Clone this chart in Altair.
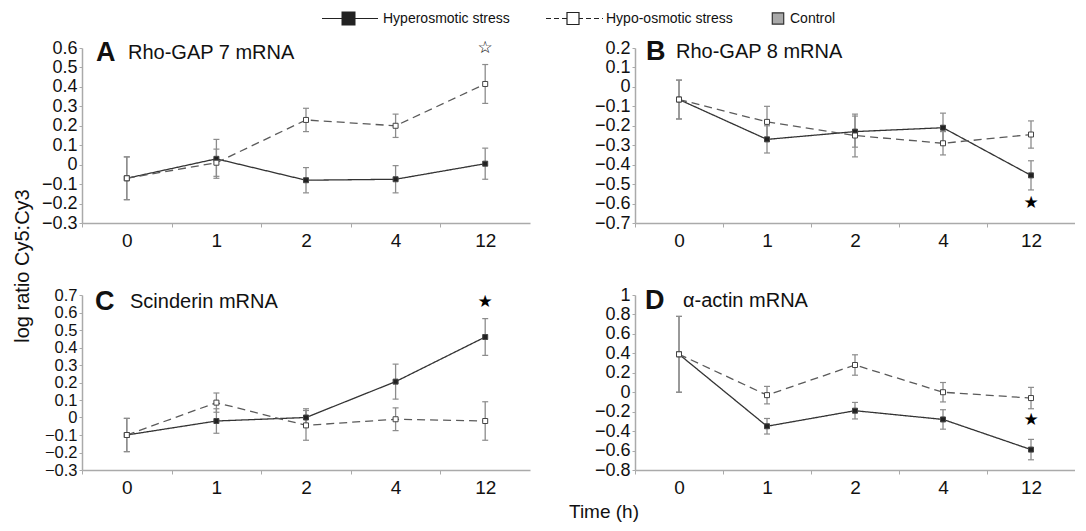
import altair as alt
import pandas as pd

times = ["0", "1", "2", "4", "12"]
series_names = ["Hyperosmotic stress", "Hypo-osmotic stress", "Control"]

# Panel A: Rho-GAP 7 mRNA
a_hyper = [-0.07, 0.03, -0.08, -0.075, 0.005]
a_hyper_err = [0.11, 0.10, 0.065, 0.07, 0.08]
a_hypo = [-0.07, 0.01, 0.23, 0.20, 0.415]
a_hypo_err = [0.11, 0.07, 0.06, 0.06, 0.10]

# Panel B: Rho-GAP 8 mRNA
b_hyper = [-0.065, -0.27, -0.23, -0.21, -0.455]
b_hyper_err = [0.10, 0.07, 0.08, 0.075, 0.075]
b_hypo = [-0.065, -0.18, -0.25, -0.29, -0.245]
b_hypo_err = [0.10, 0.08, 0.11, 0.06, 0.07]

# Panel C: Scinderin mRNA
c_hyper = [-0.10, -0.02, 0.0, 0.205, 0.46]
c_hyper_err = [0.095, 0.07, 0.05, 0.10, 0.105]
c_hypo = [-0.10, 0.085, -0.045, -0.01, -0.02]
c_hypo_err = [0.095, 0.055, 0.085, 0.065, 0.11]

# Panel D: alpha-actin mRNA
d_hyper = [0.39, -0.35, -0.19, -0.28, -0.59]
d_hyper_err = [0.39, 0.08, 0.085, 0.10, 0.105]
d_hypo = [0.39, -0.03, 0.28, 0.0, -0.06]
d_hypo_err = [0.39, 0.09, 0.105, 0.10, 0.11]

panel_letters = ["A", "B", "C", "D"]
panel_names = ["Rho-GAP 7 mRNA", "Rho-GAP 8 mRNA", "Scinderin mRNA", "\u03b1-actin mRNA"]

y_domains = [[-0.3, 0.6], [-0.7, 0.2], [-0.3, 0.7], [-0.8, 1.0]]
y_ticks = [
    [-0.3, -0.2, -0.1, 0, 0.1, 0.2, 0.3, 0.4, 0.5, 0.6],
    [-0.7, -0.6, -0.5, -0.4, -0.3, -0.2, -0.1, 0, 0.1, 0.2],
    [-0.3, -0.2, -0.1, 0, 0.1, 0.2, 0.3, 0.4, 0.5, 0.6, 0.7],
    [-0.8, -0.6, -0.4, -0.2, 0, 0.2, 0.4, 0.6, 0.8, 1.0],
]

# significance stars (time, value, glyph)
star_times = ["12", "12", "12", "12"]
star_values = [0.60, -0.595, 0.66, -0.29]
star_glyphs = ["\u2606", "\u2605", "\u2605", "\u2605"]

x_title = "Time (h)"
y_title = "log ratio Cy5:Cy3"

FONT = "Liberation Sans"
OX = 8  # page x of the content origin


def make_df(hyper, hyper_err, hypo, hypo_err):
    rows = []
    for name, vals, errs in [(series_names[0], hyper, hyper_err), (series_names[1], hypo, hypo_err)]:
        for t, v, e in zip(times, vals, errs):
            rows.append({"time": t, "series": name, "value": v, "lo": v - e, "hi": v + e})
    return pd.DataFrame(rows)


def panel(i, df, width, height, letter_dx, name_dx, text_dy, ylabel_size=18):
    step = width / len(times)
    xscale = alt.Scale(type="point", padding=0.5)
    x = alt.X("time:N", sort=times, scale=xscale,
              axis=alt.Axis(title=None, labelAngle=0, tickSize=4, tickOffset=-step / 2,
                            labelOffset=step / 2, grid=False,
                            tickColor="#aaaaaa", domainColor="#aaaaaa", domainWidth=1.5,
                            labelFont=FONT, labelFontSize=19, labelColor="#111111",
                            labelPadding=4))
    yscale = alt.Scale(domain=y_domains[i], nice=False, zero=False)
    yaxis = alt.Axis(title=None, values=y_ticks[i], tickCount=len(y_ticks[i]),
                     format=".1~f", labelOverlap=False, grid=False,
                     tickSize=3, tickColor="#aaaaaa",
                     domainColor="#aaaaaa", domainWidth=1.5, labelFont=FONT,
                     labelFontSize=ylabel_size, labelColor="#111111", labelPadding=2)

    def Y(field):
        return alt.Y(field, scale=yscale, axis=yaxis, title=None)

    base = alt.Chart(df)
    lines = base.mark_line(strokeWidth=1.3).encode(
        x=x, y=Y("value:Q"),
        strokeDash=alt.StrokeDash("series:N", scale=alt.Scale(domain=series_names[:2],
                                                              range=[[1, 0], [8, 5]]), legend=None),
        color=alt.Color("series:N", scale=alt.Scale(domain=series_names[:2],
                                                    range=["#333333", "#5a5a5a"]), legend=None),
    )
    err = base.mark_rule(color="#8c8c8c", strokeWidth=1.3).encode(
        x=x, y=Y("lo:Q"), y2="hi:Q")
    cap_lo = base.mark_point(shape="stroke", size=36, stroke="#8c8c8c", strokeWidth=1.2,
                             opacity=1).encode(x=x, y=Y("lo:Q"))
    cap_hi = base.mark_point(shape="stroke", size=36, stroke="#8c8c8c", strokeWidth=1.2,
                             opacity=1).encode(x=x, y=Y("hi:Q"))
    fill_scale = alt.Scale(domain=series_names[:2], range=["#222222", "#ffffff"])
    pts = base.mark_point(shape="square", size=25, filled=True, stroke="#444444",
                          strokeWidth=1, opacity=1).encode(
        x=x, y=Y("value:Q"),
        fill=alt.Fill("series:N", scale=fill_scale, legend=None))

    sdf = pd.DataFrame({"time": [star_times[i]], "value": [star_values[i]],
                        "glyph": [star_glyphs[i]]})
    star = alt.Chart(sdf).mark_text(font="DejaVu Sans", fontSize=17, color="#000000",
                                    baseline="middle", align="center").encode(
        x=x, y=Y("value:Q"), text="glyph:N")

    tdf = pd.DataFrame({"letter": [panel_letters[i]], "name": [panel_names[i]]})
    t_letter = alt.Chart(tdf).mark_text(align="left", baseline="middle", font=FONT, fontSize=27,
                                        fontWeight="bold", color="#111111").encode(
        x=alt.value(letter_dx), y=alt.value(text_dy), text="letter:N")
    t_name = alt.Chart(tdf).mark_text(align="left", baseline="middle", font=FONT, fontSize=20,
                                      color="#111111").encode(
        x=alt.value(name_dx), y=alt.value(text_dy), text="name:N")

    return alt.layer(lines, err, cap_lo, cap_hi, pts, star, t_letter, t_name).properties(
        width=width, height=height)


dfs = [
    make_df(a_hyper, a_hyper_err, a_hypo, a_hypo_err),
    make_df(b_hyper, b_hyper_err, b_hypo, b_hypo_err),
    make_df(c_hyper, c_hyper_err, c_hypo, c_hypo_err),
    make_df(d_hyper, d_hyper_err, d_hypo, d_hypo_err),
]

pA = panel(0, dfs[0], 448, 175, 14, 46, 5)
pB = panel(1, dfs[1], 440, 175, 11, 41, 4)
pC = panel(2, dfs[2], 448, 175, 13, 48, 7, ylabel_size=16.5)
pD = panel(3, dfs[3], 440, 175, 10, 48, 6)

# ---- legend strip ----
ldf = pd.DataFrame({"label": series_names})
LY = 7.5


def item(k):
    return alt.Chart(ldf).transform_filter(alt.datum.label == series_names[k])


leg_layers = [
    item(0).mark_rule(color="#222222", strokeWidth=1.2).encode(
        x=alt.value(322 - OX), x2=alt.value(378 - OX), y=alt.value(LY)),
    item(0).mark_point(shape="square", size=144, filled=True, fill="#222222",
                       stroke="#222222", opacity=1).encode(
        x=alt.value(348.5 - OX), y=alt.value(LY)),
    item(0).mark_text(align="left", baseline="middle", font=FONT, fontSize=14,
                      color="#111111").encode(
        x=alt.value(383 - OX), y=alt.value(LY), text="label:N"),
    item(1).mark_rule(color="#222222", strokeWidth=1.2, strokeDash=[5, 3]).encode(
        x=alt.value(546 - OX), x2=alt.value(603 - OX), y=alt.value(LY)),
    item(1).mark_point(shape="square", size=144, filled=True, fill="#ffffff",
                       stroke="#222222", strokeWidth=1.2, opacity=1).encode(
        x=alt.value(573 - OX), y=alt.value(LY)),
    item(1).mark_text(align="left", baseline="middle", font=FONT, fontSize=14,
                      color="#111111").encode(
        x=alt.value(606 - OX), y=alt.value(LY), text="label:N"),
    item(2).mark_point(shape="square", size=130, filled=True, fill="#a9a9a9",
                       stroke="#333333", strokeWidth=1.2, opacity=1).encode(
        x=alt.value(778 - OX), y=alt.value(LY)),
    item(2).mark_text(align="left", baseline="middle", font=FONT, fontSize=14,
                      color="#111111").encode(
        x=alt.value(790 - OX), y=alt.value(LY), text="label:N"),
]
legend = alt.layer(*leg_layers).properties(width=1000, height=15)

# ---- shared axis titles ----
ytdf = pd.DataFrame({"t": [y_title]})
ytitle = alt.Chart(ytdf).mark_text(angle=270, align="center", baseline="middle", font=FONT,
                                   fontSize=20, color="#111111").encode(
    x=alt.value(15), y=alt.value(218), text="t:N").properties(width=30, height=400)

xtdf = pd.DataFrame({"t": [x_title]})
xtitle = alt.Chart(xtdf).mark_text(align="center", baseline="middle", font=FONT,
                                   fontSize=19, color="#111111").encode(
    x=alt.value(604 - OX), y=alt.value(7), text="t:N").properties(width=1000, height=14)

rowAB = alt.hconcat(pA, pB, spacing=64)
rowCD = alt.hconcat(pC, pD, spacing=64)
grid = alt.vconcat(rowAB, rowCD, spacing=36)
body = alt.hconcat(ytitle, grid, spacing=3)
lower = alt.vconcat(body, xtitle, spacing=6)

chart = alt.vconcat(legend, lower, spacing=9).properties(padding=0).configure_view(stroke=None)

chart.save("out.html", embed_options={"renderer": "svg", "actions": False})
